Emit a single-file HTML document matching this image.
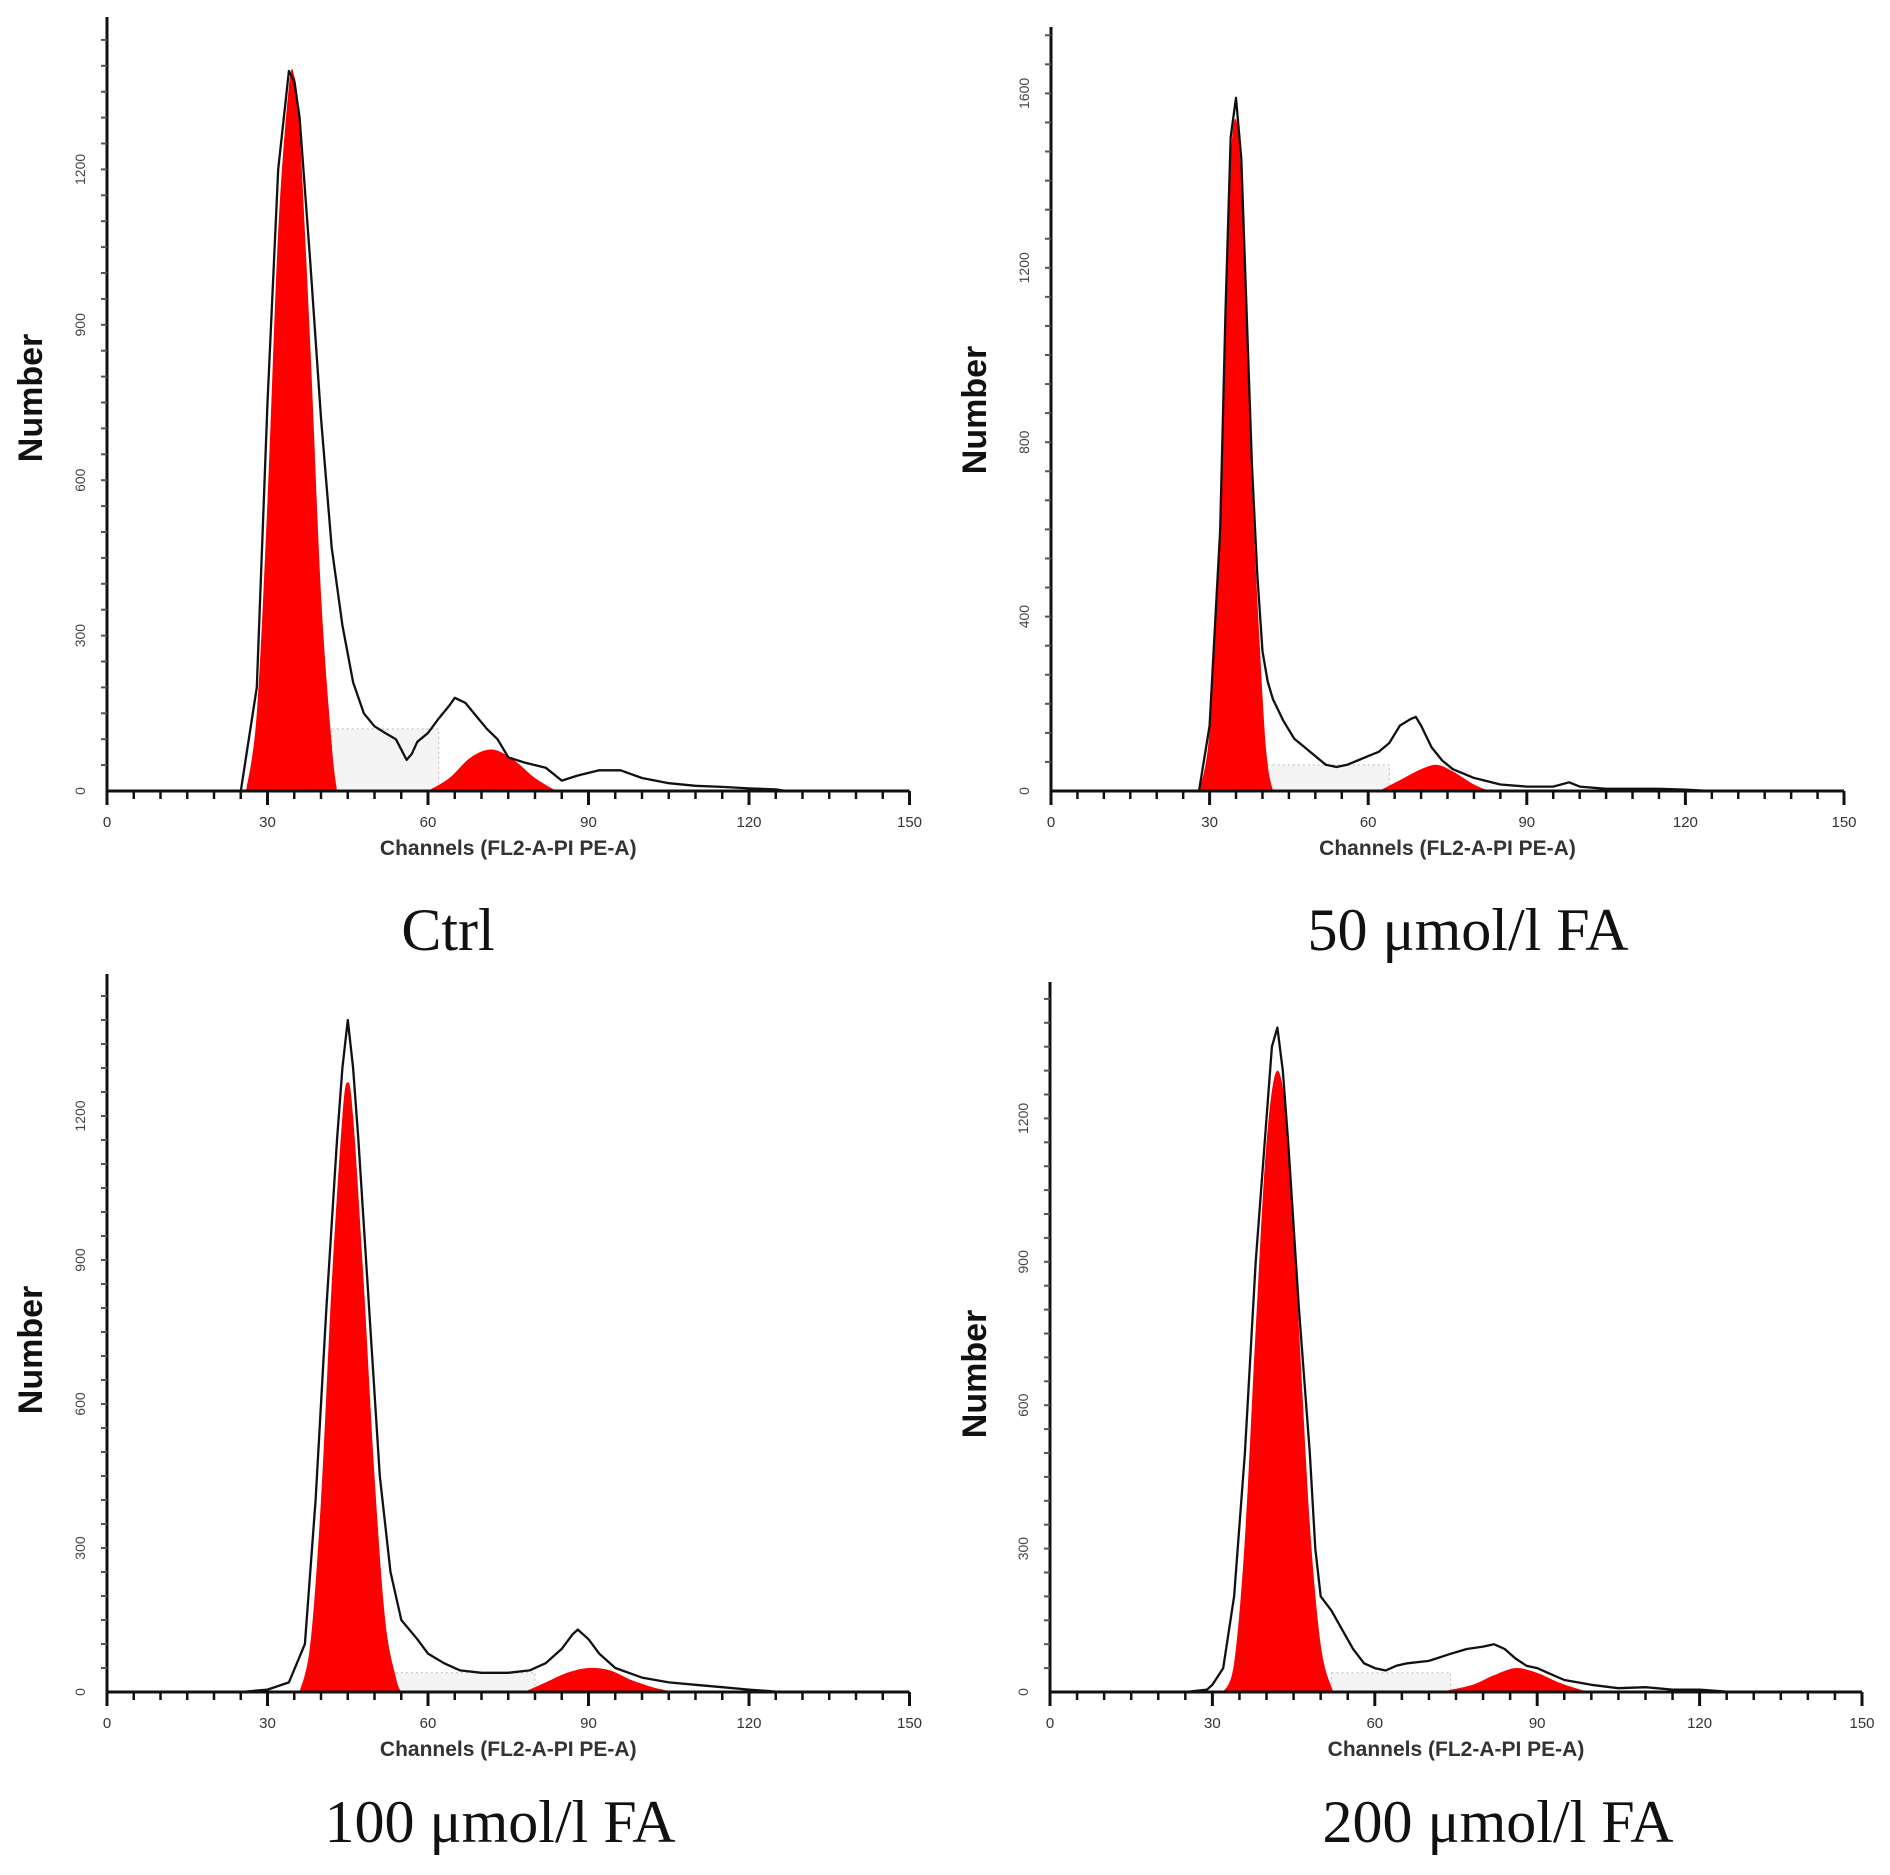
<!DOCTYPE html>
<html><head><meta charset="utf-8"><style>
html,body{margin:0;padding:0;background:#fff;}
svg{display:block;}
</style></head><body>
<svg id="fig" width="1890" height="1875" viewBox="0 0 1890 1875" xmlns="http://www.w3.org/2000/svg"></svg>
<script>
// ---- data (channel, count) ----
const ctrlChannels=[25,28,30,32,34,35,36,38,40,42,44,46,48,50,52,54,56,57,58,60,62,64,65,67,69,71,73,75,78,82,85,88,92,96,100,105,110,115,120,125,127];
const ctrlCounts=[0,200,750,1200,1390,1370,1300,1020,720,470,320,210,150,125,112,100,60,72,95,112,140,165,180,170,145,120,100,65,55,45,20,30,40,40,25,15,10,8,5,3,0];
const ctrlG1Ch=[26,28,30,32,34,35,36,38,40,42,43];
const ctrlG1Ct=[0,150,560,1080,1360,1380,1280,860,380,90,0];
const ctrlG2Ch=[60,64,68,72,76,80,84];
const ctrlG2Ct=[0,25,65,80,60,25,0];
const ctrlSLevel=[120];

const fa50Channels=[28,30,32,33,34,35,36,37,38,39,40,41,42,44,46,48,50,52,54,56,58,60,62,64,66,68,69,70,72,74,76,80,85,90,95,98,100,105,110,115,120,125];
const fa50Counts=[0,150,600,1100,1500,1590,1450,1100,750,500,320,250,210,160,120,100,80,60,55,60,70,80,90,110,150,165,170,150,100,70,50,30,15,10,10,20,10,5,5,5,3,0];
const fa50G1Ch=[28,30,32,33,34,35,36,37,38,40,41,42];
const fa50G1Ct=[0,140,620,1100,1450,1540,1400,1050,700,220,60,0];
const fa50G2Ch=[62,66,70,73,76,80,83];
const fa50G2Ct=[0,25,50,60,45,15,0];
const fa50SLevel=[60];

const fa100Channels=[25,30,34,37,39,41,43,44,45,46,47,49,51,53,55,58,60,63,66,70,75,79,82,85,87,88,90,92,95,100,105,110,115,120,126];
const fa100Counts=[0,5,20,100,400,800,1150,1300,1400,1300,1150,800,450,250,150,110,80,60,45,40,40,45,60,90,120,130,110,80,50,30,20,15,10,5,0];
const fa100G1Ch=[36,38,40,42,44,45,46,48,50,52,54,55];
const fa100G1Ct=[0,100,400,850,1200,1270,1200,850,450,150,30,0];
const fa100G2Ch=[78,82,86,90,94,98,102,106];
const fa100G2Ct=[0,20,40,50,45,25,10,0];
const fa100SLevel=[40];

const fa200Channels=[25,29,30,32,34,36,38,40,41,42,43,44,46,48,49,50,52,54,56,58,60,62,64,66,70,74,77,80,82,84,86,88,90,92,95,100,105,110,115,120,126];
const fa200Counts=[0,5,15,50,200,500,900,1200,1350,1390,1300,1150,800,500,300,200,170,130,90,60,50,45,55,60,65,80,90,95,100,90,70,55,50,40,25,15,8,10,5,5,0];
const fa200G1Ch=[32,34,36,38,40,42,44,46,48,50,52,53];
const fa200G1Ct=[0,60,320,760,1150,1300,1160,760,350,100,10,0];
const fa200G2Ch=[72,78,82,86,90,94,98,100];
const fa200G2Ct=[0,15,35,50,40,20,5,0];
const fa200SLevel=[40];

const xTicks=[0,30,60,90,120,150];
const xTickLabels=["0","30","60","90","120","150"];
const yTicksA=[0,300,600,900,1200];
const yTicksB=[0,400,800,1200,1600];

const NS="http://www.w3.org/2000/svg";
const svg=document.getElementById('fig');
function mk(tag,attrs,parent){const e=document.createElementNS(NS,tag);for(const k in attrs)e.setAttribute(k,attrs[k]);(parent||svg).appendChild(e);return e;}
function smooth(pts){let d="M"+pts[0][0]+","+pts[0][1];for(let i=0;i<pts.length-1;i++){const p0=pts[i-1]||pts[i],p1=pts[i],p2=pts[i+1],p3=pts[i+2]||p2;
d+=" C"+(p1[0]+(p2[0]-p0[0])/6)+","+(p1[1]+(p2[1]-p0[1])/6)+" "+(p2[0]-(p3[0]-p1[0])/6)+","+(p2[1]-(p3[1]-p1[1])/6)+" "+p2[0]+","+p2[1];}return d;}

function panel(cfg){
  const g=mk('g',{});
  
  
  const X=v=>cfg.x0+v*cfg.px;
  const Y=v=>cfg.y0-v*cfg.py;
  const s=mk('rect',{x:X(cfg.g1[0][cfg.g1[0].length-1]-1),y:Y(cfg.s[0]),width:X(cfg.g2[0][0]+2)-X(cfg.g1[0][cfg.g1[0].length-1]-1),height:cfg.s[0]*cfg.py,fill:'#f4f4f4',stroke:'#bbb','stroke-dasharray':'2,3','stroke-width':1},g);
  
  
  [[cfg.g1,'g1-peak'],[cfg.g2,'g2-peak']].forEach(([d,n])=>{
    const pts=d[0].map((c,i)=>[X(c),Y(d[1][i])]);
    const p=mk('path',{d:smooth(pts)+" Z",fill:'#f00',stroke:'none'},g);
    
    
  });
  const hp=cfg.h[0].map((c,i)=>X(c).toFixed(1)+","+Y(cfg.h[1][i]).toFixed(1)).join(" ");
  const hl=mk('polyline',{points:hp,fill:'none',stroke:'#111','stroke-width':2.3,'stroke-linejoin':'round'},g);
  
  
  const xa=mk('line',{x1:cfg.x0,y1:cfg.y0,x2:X(150),y2:cfg.y0,stroke:'#111','stroke-width':3},g);
  
  
  const ya=mk('line',{x1:cfg.x0,y1:cfg.y0+2,x2:cfg.x0,y2:cfg.top,stroke:'#111','stroke-width':3},g);
  
  
  for(let v=5;v<=150;v+=5){const major=v%30===0;mk('line',{x1:X(v),y1:cfg.y0,x2:X(v),y2:cfg.y0+(major?14:8),stroke:'#111','stroke-width':major?3:2.5},g);}
  mk('line',{x1:cfg.x0,y1:cfg.y0,x2:cfg.x0,y2:cfg.y0+14,stroke:'#111','stroke-width':3},g);
  xTicks.forEach((v,i)=>{const t=mk('text',{x:X(v),y:cfg.y0+36,'font-family':'Liberation Sans, sans-serif','font-size':15,'text-anchor':'middle',fill:'#333'},g);t.textContent=xTickLabels[i];
    
    });
  const step=cfg.yt[1]/6;
  for(let v=step;Y(v)>cfg.top+4;v+=step){mk('line',{x1:cfg.x0-6,y1:Y(v),x2:cfg.x0,y2:Y(v),stroke:'#555','stroke-width':2},g);}
  cfg.yt.forEach(v=>{const t=mk('text',{x:cfg.x0-22,y:Y(v),'font-family':'Liberation Sans, sans-serif','font-size':14,'text-anchor':'middle',fill:'#444',transform:`rotate(-90 ${cfg.x0-22} ${Y(v)})`},g);t.textContent=String(v);
    
    });
  const xl=mk('text',{x:X(75),y:cfg.y0+64,'font-family':'Liberation Sans, sans-serif','font-size':21,'font-weight':'bold','text-anchor':'middle',fill:'#333'},g);
  xl.textContent='Channels (FL2-A-PI PE-A)';
  
  
  const yl=mk('text',{x:cfg.nx,y:cfg.ny,'font-family':'Liberation Sans, sans-serif','font-size':34,'font-weight':'bold','text-anchor':'middle',fill:'#111',transform:`rotate(-90 ${cfg.nx} ${cfg.ny})`},g);
  yl.textContent='Number';
  
  
  const tt=mk('text',{x:cfg.tx,y:cfg.ty,'font-family':'Liberation Serif, serif','font-size':60,'text-anchor':'middle',fill:'#111'},g);
  tt.textContent=cfg.title;
  
  
}
panel({name:'panel-ctrl',x0:107,y0:791,px:160.5/30,py:0.518,top:17,yt:yTicksA,h:[ctrlChannels,ctrlCounts],g1:[ctrlG1Ch,ctrlG1Ct],g2:[ctrlG2Ch,ctrlG2Ct],s:ctrlSLevel,nx:42,ny:398,tx:448,ty:950,title:'Ctrl'});
panel({name:'panel-50',x0:1051,y0:791,px:(1844-1051)/150,py:0.436,top:27,yt:yTicksB,h:[fa50Channels,fa50Counts],g1:[fa50G1Ch,fa50G1Ct],g2:[fa50G2Ch,fa50G2Ct],s:fa50SLevel,nx:986,ny:410,tx:1468,ty:950,title:'50 μmol/l FA'});
panel({name:'panel-100',x0:107,y0:1692,px:160.5/30,py:0.48,top:974,yt:yTicksA,h:[fa100Channels,fa100Counts],g1:[fa100G1Ch,fa100G1Ct],g2:[fa100G2Ch,fa100G2Ct],s:fa100SLevel,nx:42,ny:1350,tx:500,ty:1842,title:'100 μmol/l FA'});
panel({name:'panel-200',x0:1050,y0:1692,px:(1862-1050)/150,py:0.478,top:982,yt:yTicksA,h:[fa200Channels,fa200Counts],g1:[fa200G1Ch,fa200G1Ct],g2:[fa200G2Ch,fa200G2Ct],s:fa200SLevel,nx:986,ny:1374,tx:1498,ty:1842,title:'200 μmol/l FA'});
</script>
</body></html>
